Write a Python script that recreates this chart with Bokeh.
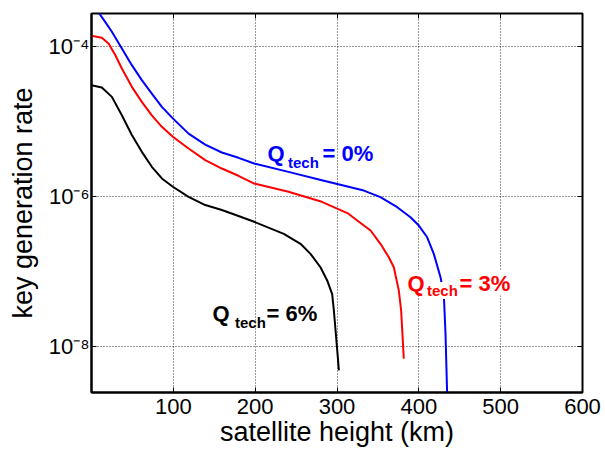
import math
from bokeh.plotting import figure
from bokeh.models import (FixedTicker, CustomJSTickFormatter, Label, LinearAxis,
                          LogAxis, Range1d)
from bokeh.embed import file_html
from bokeh.resources import INLINE

# ---------------- data ----------------
blue_x = [0, 8.6, 16.7, 24.9, 37.1, 49.3, 61.5, 73.7, 86, 99.4, 118.6, 139, 159.3, 179.6,
          198.8, 240.7, 281.5, 314, 332.8, 353.1, 373.6, 389.8, 400, 410.2, 418.3, 426.5,
          430.5, 432.6, 434.6, 435.5]
blue_y = [3.0e-4, 2.85e-4, 2.13e-4, 1.57e-4, 9.4e-5, 5.64e-5, 3.56e-5, 2.36e-5, 1.57e-5,
          1.10e-5, 6.9e-6, 4.93e-6, 3.86e-6, 3.28e-6, 2.75e-6, 2.13e-6, 1.65e-6, 1.35e-6,
          1.20e-6, 9.8e-7, 7.2e-7, 5.3e-7, 4.1e-7, 2.86e-7, 1.72e-7, 8.4e-8, 5.0e-8,
          1.48e-8, 2.34e-9, 1.0e-9]

red_x = [0, 12.6, 20.8, 29, 37.1, 49.3, 61.5, 73.7, 86, 99.4, 118.6, 139, 159.3, 179.6,
         198.8, 240.7, 281.5, 314, 324.7, 341, 353.1, 363.3, 369.4, 375.5, 378.4, 381.6]
red_y = [1.39e-4, 1.31e-4, 1.10e-4, 7.7e-5, 5.1e-5, 2.90e-5, 1.83e-5, 1.21e-5, 8.5e-6,
         6.25e-6, 4.37e-6, 3.05e-6, 2.36e-6, 1.89e-6, 1.49e-6, 1.16e-6, 8.5e-7, 5.9e-7,
         4.8e-7, 3.52e-7, 2.34e-7, 1.55e-7, 1.14e-7, 5.6e-8, 3.0e-8, 6.9e-9]

black_x = [0, 12.6, 24.9, 37.1, 49.3, 61.5, 73.7, 86, 99.4, 118.6, 139, 159.3, 179.6, 198.8,
           235, 255.4, 267.6, 279.8, 288, 294.1, 296.2, 300.3, 302.3]
black_y = [3.05e-5, 2.84e-5, 2.13e-5, 1.21e-5, 6.6e-6, 3.94e-6, 2.49e-6, 1.74e-6, 1.35e-6,
           9.9e-7, 7.7e-7, 6.6e-7, 5.5e-7, 4.6e-7, 3.18e-7, 2.34e-7, 1.72e-7, 1.14e-7,
           7.6e-8, 5.0e-8, 3.0e-8, 8.9e-9, 4.8e-9]

x_ticks = [100, 200, 300, 400, 500, 600]
y_ticks = [1e-8, 1e-6, 1e-4]

series_labels = [("0%", "#0000FF"), ("3%", "#FF0000"), ("6%", "#000000")]

# ---------------- layout ----------------
W, H = 605, 453
FL, FR, FT, FB = 91, 582, 13, 392          # frame edges in pixels
X0, X1 = 0, 600
E_TOP, E_BOT = -3.56, -8.613               # log10 at frame top / bottom

def px2x(px):
    return X0 + (px - FL) * (X1 - X0) / (FR - FL)

def py2y(py):
    return 10 ** (E_TOP - (py - FT) * (E_TOP - E_BOT) / (FB - FT))

FONT = "Liberation Sans"

p = figure(width=W, height=H, x_range=Range1d(X0, X1),
           y_range=Range1d(10 ** E_BOT, 10 ** E_TOP), y_axis_type="log",
           output_backend="svg", toolbar_location=None,
           min_border_left=FL, min_border_right=W - FR,
           min_border_top=FT, min_border_bottom=H - FB)
p.background_fill_color = "white"
p.border_fill_color = "white"
p.outline_line_color = "black"
p.outline_line_width = 2

xt = FixedTicker(ticks=x_ticks, minor_ticks=[])
yt = FixedTicker(ticks=y_ticks, minor_ticks=[])

p.xaxis.ticker = xt
p.yaxis.ticker = yt
p.xgrid.ticker = xt
p.ygrid.ticker = yt
for g in (p.xgrid, p.ygrid):
    g.grid_line_color = "black"
    g.grid_line_dash = "1 2"
    g.grid_line_width = 1
    g.grid_line_alpha = 0.8

for ax in (p.xaxis, p.yaxis):
    ax.axis_line_color = "black"
    ax.axis_line_width = 2
    ax.major_tick_in = 5
    ax.major_tick_out = 0
    ax.major_tick_line_color = "black"
    ax.minor_tick_line_color = None
    ax.major_label_text_font = FONT
    ax.major_label_text_font_size = "22px"
    ax.major_label_text_color = "black"
    ax.axis_label_text_font = FONT
    ax.axis_label_text_font_size = "27px"
    ax.axis_label_text_font_style = "normal"
    ax.axis_label_text_color = "black"

p.xaxis.axis_label = "satellite height (km)"
p.yaxis.axis_label = "key generation rate"
p.xaxis.major_label_standoff = 6
p.xaxis.axis_label_standoff = 0
p.yaxis.major_label_standoff = 2
p.yaxis.axis_label_standoff = 8
p.yaxis.formatter = CustomJSTickFormatter(code="""
const e = Math.round(Math.log10(tick));
const sup = {'-': '\\u207B', '0': '\\u2070', '1': '\\u00B9', '2': '\\u00B2', '3': '\\u00B3',
             '4': '\\u2074', '5': '\\u2075', '6': '\\u2076', '7': '\\u2077', '8': '\\u2078',
             '9': '\\u2079'};
return '10' + String(e).split('').map(c => sup[c]).join('');
""")

# box ticks on top and right (inward, no labels)
top = LinearAxis(ticker=FixedTicker(ticks=x_ticks, minor_ticks=[]),
                 formatter=CustomJSTickFormatter(code="return '';"))
right = LogAxis(ticker=FixedTicker(ticks=y_ticks, minor_ticks=[]),
                formatter=CustomJSTickFormatter(code="return '';"))
for ax in (top, right):
    ax.axis_line_color = None
    ax.major_tick_in = 5
    ax.major_tick_out = 0
    ax.minor_tick_line_color = None
    ax.major_label_text_font_size = "0px"
    ax.major_label_standoff = 0
p.add_layout(top, "above")
p.add_layout(right, "right")

# curves
for xs, ys, col in ((blue_x, blue_y, "#0000FF"), (red_x, red_y, "#FF0000"),
                    (black_x, black_y, "#000000")):
    p.line(xs, ys, line_color=col, line_width=2, line_join="round")

# curve labels: Q, subscript "tech", "= N%"
label_pos = [
    # (Q left px, baseline px, tech left px, tech baseline px, eq left px)
    (267, 153, 287.5, 162, 322),
    (407, 282.5, 426.5, 290, 459),
    (212, 313, 234.5, 322, 266),
]
for (pct, col), (qx, qy, tx, ty, ex) in zip(series_labels, label_pos):
    bg = "white" if col == "#FF0000" else None
    common = dict(text_font=FONT, text_font_style="bold", text_color=col,
                  text_baseline="alphabetic", text_align="left",
                  background_fill_color=bg)
    p.add_layout(Label(x=px2x(qx), y=py2y(qy), text="Q", text_font_size="22px", **common))
    p.add_layout(Label(x=px2x(tx), y=py2y(ty), text="tech", text_font_size="15px", **common))
    p.add_layout(Label(x=px2x(ex), y=py2y(qy), text="= " + pct, text_font_size="22px", **common))

open("out.html", "w").write(file_html(p, INLINE))
